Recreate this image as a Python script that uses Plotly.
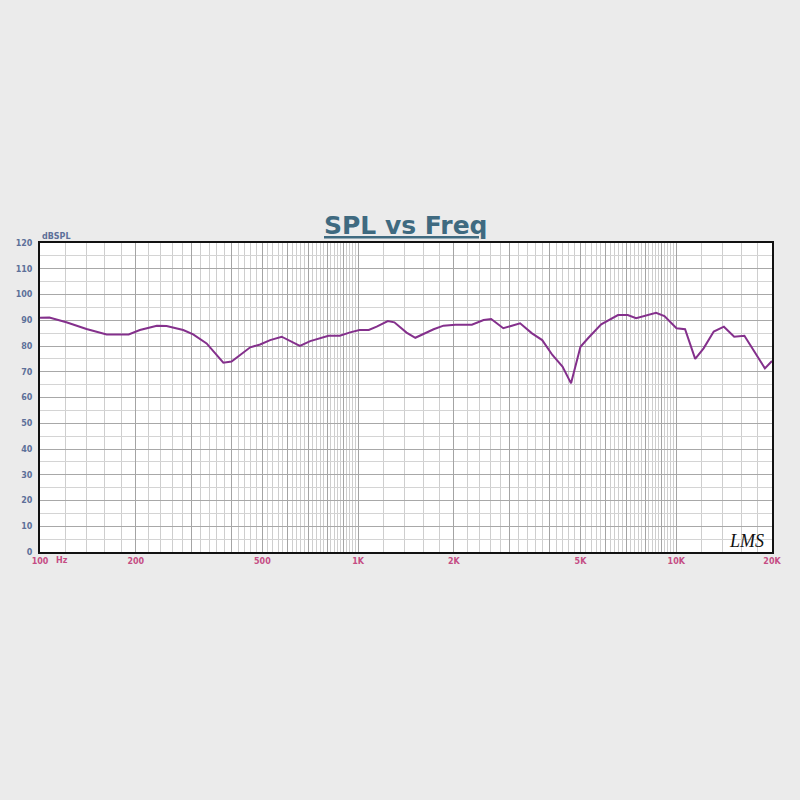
import plotly.graph_objects as go

# ---- data ----
freq_hz = [100, 107, 121, 140, 162, 190, 206, 233, 250, 282, 303, 334, 377, 400,
           458, 492, 529, 575, 656, 707, 807, 876, 944, 1010, 1080, 1144, 1240,
           1300, 1420, 1513, 1727, 1855, 2020, 2278, 2480, 2620, 2860, 3230, 3520,
           3790, 4080, 4390, 4670, 5000, 5280, 5810, 6560, 7040, 7480, 8040, 8640,
           9180, 10020, 10660, 11470, 12190, 13120, 14120, 15210, 16380, 17650,
           19000, 20000]
spl_db = [91.0, 91.1, 89.2, 86.6, 84.5, 84.5, 86.2, 87.9, 87.8, 86.2, 84.5, 81.0,
          73.5, 74.0, 79.5, 80.6, 82.3, 83.6, 80.0, 81.9, 84.0, 84.0, 85.3, 86.2,
          86.2, 87.5, 89.7, 89.2, 85.2, 83.2, 86.5, 87.9, 88.3, 88.3, 90.1, 90.5,
          86.9, 88.8, 84.9, 82.3, 76.5, 72.0, 65.5, 79.7, 83.0, 88.4, 92.0, 92.0,
          90.8, 92.0, 92.9, 91.6, 86.9, 86.5, 75.0, 79.1, 85.6, 87.5, 83.6, 84.0,
          77.8, 71.3, 74.2]

x_tick_vals = [100, 200, 500, 1000, 2000, 5000, 10000, 20000]
x_tick_text = ["100", "200", "500", "1K", "2K", "5K", "10K", "20K"]
y_tick_vals = [0, 10, 20, 30, 40, 50, 60, 70, 80, 90, 100, 110, 120]
y_tick_text = [str(v) for v in y_tick_vals]

# grid scheme of the chart
major_x = [m * d for d in (100, 1000) for m in range(1, 10)] + [10000, 20000]
minor_x = ([f for f in range(100, 1000, 20)] + [f for f in range(1000, 10000, 200)]
           + [f for f in range(10000, 20000, 2000)])
minor_x = [f for f in minor_x if f not in major_x]

all_x_vals = major_x
all_x_text = [x_tick_text[x_tick_vals.index(v)] if v in x_tick_vals else "" for v in major_x]

fig = go.Figure()
fig.add_trace(go.Scatter(
    x=freq_hz, y=spl_db, mode="lines",
    line=dict(color="#84308c", width=2),
    hoverinfo="skip", showlegend=False,
))

fig.update_layout(
    width=800, height=800,
    margin=dict(l=40, r=28, t=243, b=248),
    paper_bgcolor="#ebebeb",
    plot_bgcolor="#ffffff",
    showlegend=False,
    xaxis=dict(
        type="log",
        range=[2, 4.30103],
        tickmode="array", tickvals=all_x_vals, ticktext=all_x_text,
        showgrid=True, gridcolor="#a4a4a4", gridwidth=1,
        minor=dict(tickmode="array", tickvals=minor_x, showgrid=True,
                   gridcolor="#cecece", gridwidth=1, ticks=""),
        ticks="", ticklabelstandoff=0,
        tickfont=dict(family="DejaVu Sans", size=8, color="#c54d84", weight="bold"),
        showline=True, linecolor="#111111", linewidth=2, mirror=True,
        zeroline=False,
    ),
    yaxis=dict(
        range=[0, 120],
        tickmode="array", tickvals=y_tick_vals, ticktext=y_tick_text,
        showgrid=True, gridcolor="#a8a8a8", gridwidth=1,
        minor=dict(dtick=5, tick0=0, showgrid=True, gridcolor="#d4d4d4",
                   gridwidth=1, ticks=""),
        ticks="", ticklabelstandoff=4,
        tickfont=dict(family="DejaVu Sans", size=8, color="#5d7099", weight="bold"),
        showline=True, linecolor="#111111", linewidth=2, mirror=True,
        zeroline=False,
    ),
    annotations=[
        dict(text="<b><u>SPL vs Freq</u></b>", xref="paper", yref="paper",
             x=0.5, y=1.058, xanchor="center", yanchor="middle", showarrow=False,
             font=dict(family="DejaVu Sans", size=25, color="#3f6a80")),
        dict(text="<b>dBSPL</b>", xref="paper", yref="paper",
             x=0.0, y=1.0, xanchor="left", yanchor="bottom", showarrow=False,
             font=dict(family="DejaVu Sans", size=8, color="#5d7099")),
        dict(text="<b>Hz</b>", xref="paper", yref="paper",
             x=0.030, y=-0.026, xanchor="center", yanchor="middle", showarrow=False,
             font=dict(family="DejaVu Sans", size=8, color="#c54d84")),
        dict(text="<i>LMS</i>", xref="paper", yref="paper",
             x=0.9645, y=0.036, xanchor="center", yanchor="middle", showarrow=False,
             font=dict(family="Liberation Serif", size=18, color="#111111")),
    ],
)

fig.write_html(
    "out.html",
    config={"displayModeBar": False},
    post_script="document.body.style.margin='0';document.body.style.background='#ebebeb';",
)
